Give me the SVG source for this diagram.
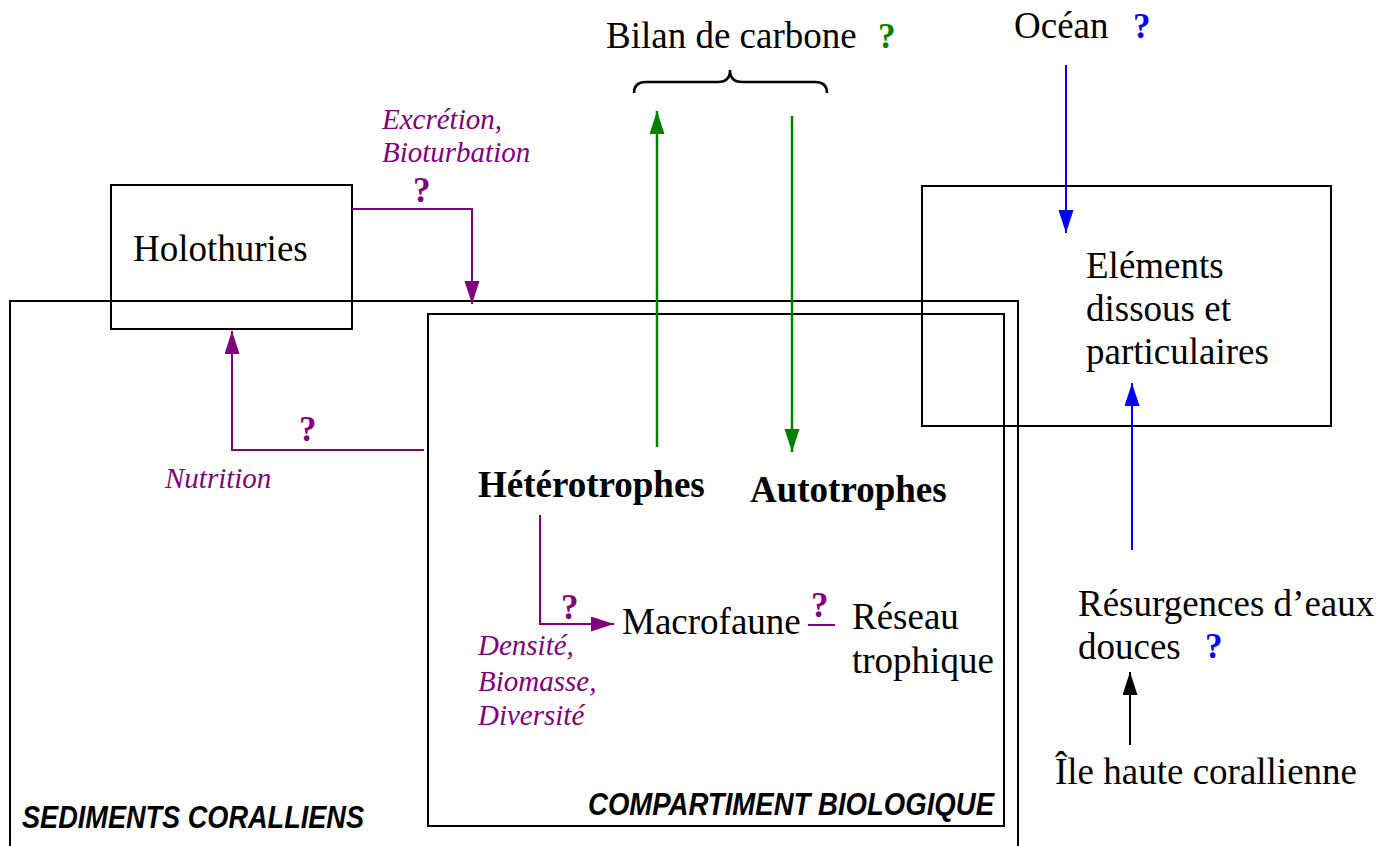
<svg xmlns="http://www.w3.org/2000/svg" width="1392" height="846" viewBox="0 0 1392 846">
<defs>
<style>
.box{fill:none;stroke:#000;stroke-width:2}
.t{font-family:"Liberation Serif","Times New Roman",serif;font-size:37px;fill:#000}
.b{font-weight:bold}
.it{font-family:"Liberation Serif","Times New Roman",serif;font-style:italic;font-size:29px;fill:#800080}
.q{font-family:"Liberation Serif","Times New Roman",serif;font-weight:bold;font-size:35px}
.lbl{font-family:"Liberation Sans",Arial,sans-serif;font-weight:bold;font-style:italic;font-size:32px;fill:#000}
.pur{fill:none;stroke:#800080;stroke-width:2}
.grn{fill:none;stroke:#008000;stroke-width:2.5}
.blu{fill:none;stroke:#0000ff;stroke-width:2}
.blk{fill:none;stroke:#000;stroke-width:2}
</style>
<marker id="ap" markerUnits="userSpaceOnUse" markerWidth="24" markerHeight="16" refX="23" refY="7.5" orient="auto"><path d="M0,0 L23,7.5 L0,15 z" fill="#800080"/></marker>
<marker id="ag" markerUnits="userSpaceOnUse" markerWidth="24" markerHeight="16" refX="23" refY="7.5" orient="auto"><path d="M0,0 L23,7.5 L0,15 z" fill="#008000"/></marker>
<marker id="ab" markerUnits="userSpaceOnUse" markerWidth="24" markerHeight="16" refX="23" refY="7.5" orient="auto"><path d="M0,0 L23,7.5 L0,15 z" fill="#0000ff"/></marker>
<marker id="ak" markerUnits="userSpaceOnUse" markerWidth="24" markerHeight="16" refX="23" refY="7.5" orient="auto"><path d="M0,0 L23,7.5 L0,15 z" fill="#000"/></marker>
</defs>
<rect width="1392" height="846" fill="#fff"/>

<g id="sediments">
<rect class="box" x="10" y="301" width="1008" height="570"/>
<text class="lbl" x="22" y="828" textLength="342" lengthAdjust="spacingAndGlyphs">SEDIMENTS CORALLIENS</text>
</g>
<g id="compartiment">
<rect class="box" x="428" y="314" width="576" height="512"/>
<text class="lbl" x="588" y="815" textLength="406" lengthAdjust="spacingAndGlyphs">COMPARTIMENT BIOLOGIQUE</text>
</g>
<g id="holothuries">
<rect class="box" x="111" y="185" width="241" height="144"/>
<text class="t" x="133" y="261">Holothuries</text>
</g>
<g id="elements">
<rect class="box" x="922" y="186" width="409" height="240"/>
<text class="t" x="1086" y="278">Eléments</text>
<text class="t" x="1086" y="321">dissous et</text>
<text class="t" x="1086" y="364">particulaires</text>
</g>
<g id="bilan">
<text class="t" x="606" y="48">Bilan de carbone</text>
<text class="q" x="878" y="48" fill="#008000">?</text>
<path d="M634,93 Q634,82 646,82 L718,82 Q730,82 730,70 Q730,82 742,82 L815,82 Q827,82 827,93" fill="none" stroke="#000" stroke-width="2.5"/>
</g>
<g id="ocean">
<text class="t" x="1014" y="38">Océan</text>
<text class="q" x="1133" y="38" fill="#0000ff">?</text>
</g>
<g id="heterotrophes"><text class="t b" x="478" y="497">Hétérotrophes</text></g>
<g id="autotrophes"><text class="t b" x="750" y="502">Autotrophes</text></g>
<g id="macrofaune"><text class="t" x="622" y="634">Macrofaune</text></g>
<g id="reseau">
<text class="t" x="852" y="629">Réseau</text>
<text class="t" x="852" y="673">trophique</text>
</g>
<g id="resurgences">
<text class="t" x="1078" y="616">Résurgences d’eaux</text>
<text class="t" x="1078" y="659">douces</text>
<text class="q" x="1205" y="658" fill="#0000ff">?</text>
</g>
<g id="ile"><text class="t" x="1055" y="784">Île haute corallienne</text></g>

<g id="connectors">
<path class="pur" d="M352,209 H472 V304" marker-end="url(#ap)"/>
<text class="it" x="382" y="129">Excrétion,</text>
<text class="it" x="382" y="162">Bioturbation</text>
<text class="q" x="413" y="202" fill="#800080">?</text>

<path class="pur" d="M424,450 H232 V331" marker-end="url(#ap)"/>
<text class="q" x="299" y="441" fill="#800080">?</text>
<text class="it" x="165" y="488">Nutrition</text>

<path class="pur" d="M540,515 V624 H614" marker-end="url(#ap)"/>
<text class="q" x="561" y="619" fill="#800080">?</text>
<text class="it" x="478" y="655">Densité,</text>
<text class="it" x="478" y="691">Biomasse,</text>
<text class="it" x="478" y="725">Diversité</text>

<path class="pur" d="M808,625 H835"/>
<text class="q" x="811" y="617" fill="#800080">?</text>

<path class="grn" d="M657,447 V111" marker-end="url(#ag)"/>
<path class="grn" d="M792,116 V452" marker-end="url(#ag)"/>

<path class="blu" d="M1066,65 V233" marker-end="url(#ab)"/>
<path class="blu" d="M1132,550 V383" marker-end="url(#ab)"/>
<path class="blk" d="M1130,745 V672" marker-end="url(#ak)"/>
</g>
</svg>
